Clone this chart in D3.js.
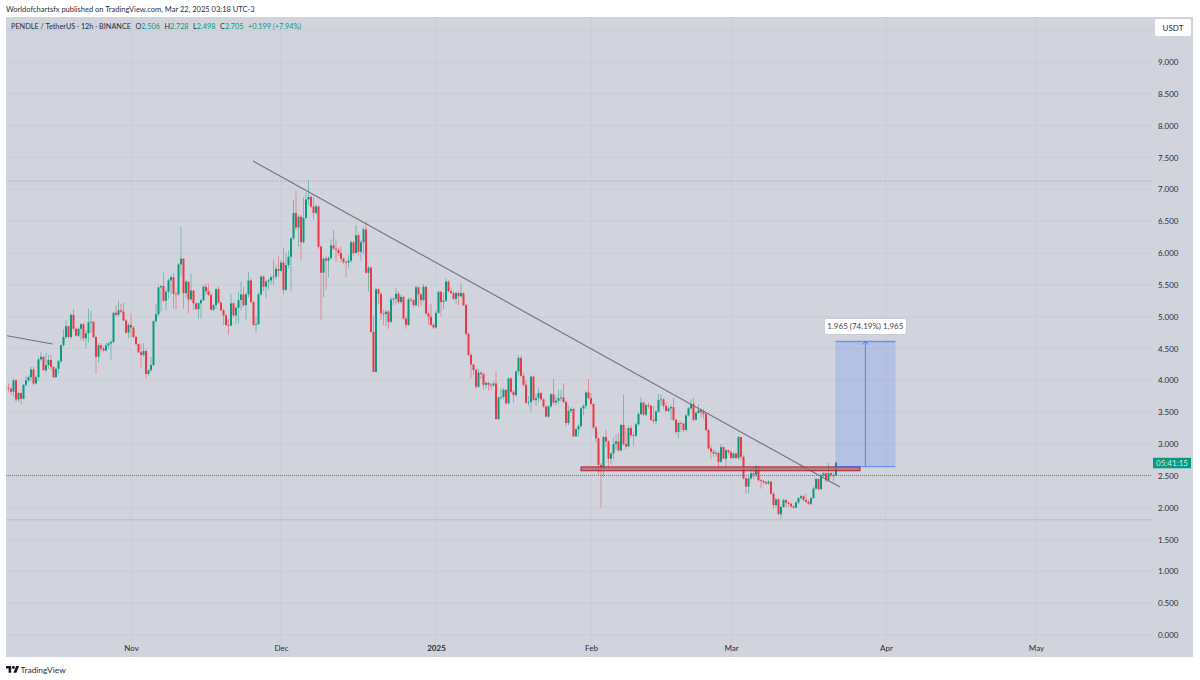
<!DOCTYPE html>
<html>
<head>
<meta charset="utf-8">
<title>PENDLE / TetherUS</title>
<script src="https://cdnjs.cloudflare.com/ajax/libs/d3/7.8.5/d3.min.js"></script>
<style>
  html, body { margin: 0; background: #fff; }
  svg { display: block; }
  text { font-family: Lato, "Open Sans", sans-serif; }
</style>
</head>
<body>
<script>
// 12h candles, oldest first. each open is the previous close
var firstOpen = 3.88;
var lastBar = "2025-03-22T00:00:00Z"; // 21:00 on the chart's UTC-3 clock

var closes = [
  3.87,3.82,4.00,3.70,3.80,3.71,3.93,4.00,4.05,4.17,
  3.95,4.05,4.33,4.37,4.16,4.24,4.32,4.21,4.05,4.18,
  4.30,4.55,4.68,4.85,4.68,5.03,4.81,4.70,4.81,4.88,
  4.66,4.74,4.91,4.92,4.68,4.37,4.55,4.50,4.47,4.55,
  4.58,4.60,5.06,5.03,5.10,5.08,4.94,4.75,4.87,4.83,
  4.68,4.57,4.44,4.40,4.46,4.10,4.16,4.24,4.93,5.04,
  5.46,5.48,5.25,5.39,5.57,5.62,5.36,5.35,5.82,5.91,
  5.37,5.55,5.27,5.41,5.21,5.12,5.21,5.26,5.47,5.40,
  5.34,5.11,5.18,5.43,5.22,5.10,5.02,4.87,4.86,5.21,
  5.02,5.14,5.26,5.35,5.18,5.35,5.57,5.23,4.87,4.88,
  5.35,5.63,5.47,5.55,5.57,5.62,5.63,5.75,5.72,5.85,
  5.42,5.81,5.94,6.23,6.63,6.40,6.57,6.17,6.55,6.84,
  6.88,6.73,6.63,6.73,6.10,5.69,5.91,5.88,5.92,6.12,
  6.07,6.05,6.00,5.91,5.86,5.85,5.88,6.17,6.00,6.28,
  6.02,6.17,6.37,5.69,5.77,4.76,4.13,5.43,5.36,5.05,
  5.04,5.08,4.92,5.27,5.28,5.36,5.23,5.31,4.97,4.87,
  5.27,5.26,5.18,5.46,5.35,5.26,5.47,5.05,5.00,4.87,
  4.83,5.06,5.39,5.23,5.25,5.55,5.40,5.37,5.28,5.37,
  5.32,5.37,5.18,4.73,4.40,4.25,4.16,3.90,4.12,4.10,
  3.93,3.96,3.93,3.92,3.95,3.39,3.73,3.74,3.85,3.64,
  4.03,3.82,3.77,4.14,4.35,4.07,3.93,3.65,3.66,4.06,
  3.69,3.72,3.80,3.70,3.59,3.43,3.59,3.78,3.65,3.68,
  3.72,3.73,3.66,3.33,3.52,3.55,3.12,3.23,3.28,3.56,
  3.60,3.81,3.72,3.63,3.26,3.09,2.67,2.62,3.11,3.04,
  2.77,2.85,3.00,3.04,2.90,3.30,3.00,2.96,3.25,3.14,
  3.13,3.31,3.47,3.65,3.46,3.61,3.60,3.38,3.36,3.51,
  3.69,3.70,3.60,3.52,3.56,3.58,3.38,3.19,3.33,3.32,
  3.22,3.45,3.56,3.63,3.38,3.49,3.53,3.50,3.47,3.22,
  2.93,2.88,2.85,2.86,2.72,2.95,2.77,2.90,2.87,2.78,
  2.85,2.78,3.11,2.80,2.46,2.33,2.46,2.54,2.52,2.65,
  2.43,2.42,2.40,2.38,2.41,2.22,2.04,2.13,1.90,2.01,
  2.12,2.08,2.06,2.02,2.00,2.08,2.15,2.18,2.12,2.09,
  2.06,2.15,2.30,2.45,2.29,2.51,2.54,2.43,2.54,2.51,
  2.506,2.705
];

var highs = [
  3.95,3.90,4.03,4.02,3.82,3.82,3.94,4.06,4.08,4.21,
  4.21,4.08,4.37,4.45,4.38,4.43,4.40,4.40,4.22,4.20,
  4.32,4.56,4.80,4.94,4.86,5.05,5.12,4.83,4.83,4.90,
  4.90,4.79,5.13,5.09,4.93,4.71,4.58,4.58,4.53,4.59,
  4.60,4.63,5.07,5.18,5.25,5.20,5.22,4.96,4.90,5.05,
  4.86,4.70,4.58,4.58,4.58,4.50,4.18,4.37,4.94,5.20,
  5.49,5.49,5.69,5.42,5.60,5.65,5.68,5.40,5.84,6.41,
  5.92,5.58,5.55,5.68,5.42,5.22,5.23,5.28,5.49,5.52,
  5.52,5.38,5.20,5.45,5.47,5.24,5.12,5.05,4.96,5.36,
  5.23,5.16,5.39,5.55,5.47,5.38,5.70,5.60,5.25,5.00,
  5.38,5.65,5.65,5.58,5.60,5.65,5.90,5.81,5.95,5.89,
  6.08,6.00,6.04,6.25,6.84,6.98,6.60,6.60,6.88,6.95,
  7.14,6.91,6.88,6.76,6.75,6.12,5.93,5.95,5.95,6.21,
  6.36,6.22,6.08,6.10,5.93,5.88,5.97,6.20,6.19,6.44,
  6.32,6.20,6.40,6.49,5.80,5.79,5.02,5.45,5.45,5.38,
  5.11,5.10,5.10,5.31,5.30,5.45,5.40,5.35,5.33,5.00,
  5.30,5.30,5.28,5.49,5.47,5.37,5.51,5.49,5.08,5.20,
  4.90,5.10,5.41,5.41,5.38,5.60,5.57,5.45,5.41,5.39,
  5.40,5.53,5.38,5.20,4.75,4.42,4.25,4.18,4.18,4.14,
  4.12,3.98,3.97,3.96,3.98,4.14,3.75,3.87,3.88,3.86,
  4.05,4.05,3.85,4.16,4.40,4.39,4.12,4.00,3.75,4.08,
  4.06,3.78,3.88,3.82,3.72,3.60,3.61,3.80,4.03,3.75,
  3.85,3.85,3.95,3.68,3.61,3.58,3.57,3.25,3.32,3.58,
  3.62,3.83,4.02,3.80,3.64,3.28,3.10,2.70,3.13,3.23,
  3.06,2.87,3.10,3.15,3.17,3.32,3.78,3.25,3.28,3.30,
  3.18,3.33,3.50,3.74,3.67,3.63,3.65,3.62,3.60,3.53,
  3.79,3.78,3.72,3.66,3.60,3.62,3.72,3.40,3.35,3.36,
  3.34,3.47,3.58,3.70,3.72,3.51,3.62,3.56,3.55,3.49,
  3.24,2.98,2.92,2.90,2.88,3.00,2.96,2.92,2.91,2.90,
  2.87,2.86,3.13,3.08,2.82,2.48,2.50,2.62,2.58,2.66,
  2.60,2.46,2.44,2.42,2.43,2.42,2.24,2.15,2.15,2.03,
  2.14,2.14,2.10,2.08,2.04,2.10,2.17,2.20,2.20,2.22,
  2.12,2.17,2.33,2.47,2.46,2.54,2.57,2.55,2.70,2.56,
  2.55,2.728
];

var lows = [
  3.82,3.77,3.74,3.66,3.66,3.62,3.70,3.90,3.97,4.00,
  3.92,3.94,3.99,4.31,4.15,4.13,4.18,4.16,4.03,4.04,
  4.10,4.27,4.53,4.65,4.66,4.65,4.78,4.68,4.68,4.63,
  4.62,4.50,4.60,4.75,4.66,4.10,4.28,4.45,4.44,4.45,
  4.50,4.32,4.59,5.00,5.00,5.05,4.93,4.73,4.66,4.68,
  4.66,4.55,4.43,4.20,4.37,4.03,4.07,4.13,4.22,4.90,
  5.00,5.08,5.23,5.10,5.28,5.35,5.13,5.12,5.33,5.65,
  5.13,5.30,5.05,5.25,5.10,5.10,4.97,4.97,5.24,5.35,
  5.32,5.09,5.09,5.12,5.20,5.08,4.87,4.85,4.72,4.85,
  4.98,4.88,4.90,5.10,5.15,4.95,5.30,5.21,4.85,4.75,
  4.98,5.33,5.40,5.29,5.42,5.50,5.50,5.58,5.62,5.70,
  5.35,5.40,5.76,5.40,6.20,6.36,6.10,5.88,6.15,6.53,
  6.75,6.70,6.52,6.60,6.06,4.95,5.31,5.42,5.61,5.90,
  6.05,5.86,5.95,5.85,5.82,5.62,5.76,5.85,5.95,5.98,
  5.96,5.88,5.98,5.67,5.39,4.74,4.13,4.13,5.20,4.95,
  4.87,4.85,4.81,4.90,5.18,5.20,5.20,5.20,4.95,4.81,
  4.85,5.23,5.14,5.16,5.15,5.18,5.24,5.03,4.87,4.85,
  4.81,4.81,5.04,5.00,5.12,5.23,5.38,5.35,5.26,5.20,
  5.18,5.30,5.16,4.71,4.38,4.03,4.08,3.87,3.88,4.02,
  3.85,3.88,3.84,3.85,3.90,3.39,3.38,3.68,3.70,3.62,
  3.62,3.80,3.65,3.74,4.08,4.05,3.90,3.63,3.60,3.51,
  3.67,3.60,3.65,3.68,3.57,3.41,3.41,3.57,3.62,3.60,
  3.64,3.68,3.64,3.28,3.30,3.48,3.11,3.11,3.12,3.26,
  3.45,3.55,3.70,3.60,3.24,3.02,2.52,2.00,2.48,2.95,
  2.60,2.68,2.76,2.90,2.88,2.88,2.97,2.92,2.95,3.10,
  2.97,3.10,3.28,3.45,3.44,3.44,3.56,3.36,3.32,3.30,
  3.49,3.60,3.55,3.50,3.50,3.38,3.36,3.15,3.09,3.20,
  3.18,3.20,3.43,3.54,3.35,3.37,3.47,3.42,3.40,3.20,
  2.91,2.76,2.80,2.80,2.60,2.70,2.76,2.62,2.84,2.76,
  2.76,2.76,2.76,2.75,2.44,2.22,2.22,2.44,2.45,2.48,
  2.41,2.30,2.36,2.36,2.36,2.20,1.98,2.00,1.88,1.82,
  2.00,2.00,2.02,1.99,1.98,1.99,2.06,2.13,2.10,2.07,
  2.04,2.04,2.14,2.28,2.27,2.28,2.48,2.40,2.41,2.48,
  2.42,2.498
];

var priceTicks = [0,0.5,1,1.5,2,2.5,3,3.5,4,4.5,5,5.5,6,6.5,7,7.5,8,8.5,9];
var gridOnlyPrices = [9.5];
var monthTicks = ["2024-11-01","2024-12-01","2025-01-01","2025-02-01","2025-03-01","2025-04-01","2025-05-01"];
var monthLabels = ["Nov","Dec","2025","Feb","Mar","Apr","May"];

var dottedLevels = [7.13, 1.81];
var lastPriceLevel = [2.506];
var mainTrend = [["2024-11-25T10:00:00Z", 7.445], ["2025-03-22T19:00:00Z", 2.325]];
var oldTrend = [["2024-10-07T05:00:00Z", 4.70], ["2024-10-16T08:00:00Z", 4.57]];
var supportZone = [["2025-01-30T00:00:00Z", 2.64], ["2025-03-26T19:00:00Z", 2.58]];
var measureBox = [["2025-03-21T21:00:00Z", 4.61], ["2025-04-02T21:00:00Z", 2.645]];

var headerText = "Worldofchartsfx published on TradingView.com, Mar 22, 2025 03:18 UTC-3";
var symbolText = "PENDLE / TetherUS \u00b7 12h \u00b7 BINANCE";
var ohlcLegend = [["O","2.506"],["H","2.728"],["L","2.498"],["C","2.705"]];
var changeText = "+0.199 (+7.94%)";
var measureText = "1.965 (74.19%) 1,965";
var countdown = "05:41:15";

var green = "#089981", red = "#f23645", blue = "#2962ff";
var pane = {left: 6, top: 17, right: 1193, bottom: 657, plotRight: 1152};

var svg = d3.select("body").append("svg").attr("width", 1200).attr("height", 680);

var x = d3.scaleUtc()
  .domain([new Date("2024-11-01T00:00:00Z"), new Date("2025-05-01T00:00:00Z")])
  .range([131, 1036]);
var y = d3.scaleLinear().domain([0, 9]).range([635, 62]);

var end = new Date(lastBar);
var bars = closes.map(function(c, i) {
  return {
    date: d3.utcHour.offset(end, -12 * (closes.length - 1 - i)),
    open: i ? closes[i - 1] : firstOpen,
    close: c, high: highs[i], low: lows[i]
  };
});

function tx(s) { return x(new Date(s)); }

svg.append("rect")
  .attr("x", pane.left).attr("y", pane.top)
  .attr("width", pane.right - pane.left).attr("height", pane.bottom - pane.top)
  .attr("fill", "#d1d4dc");

// grid
var gridColor = "#c9ccd5";
svg.append("g").selectAll("line").data(priceTicks.concat(gridOnlyPrices)).join("line")
  .attr("x1", pane.left).attr("x2", pane.plotRight)
  .attr("y1", function(d) { return y(d); }).attr("y2", function(d) { return y(d); })
  .attr("stroke", gridColor).attr("stroke-width", 0.8);
svg.append("g").selectAll("line").data(monthTicks).join("line")
  .attr("x1", tx).attr("x2", tx)
  .attr("y1", pane.top).attr("y2", pane.bottom)
  .attr("stroke", gridColor).attr("stroke-width", 0.8);

// dotted levels
svg.append("g").selectAll("line").data(dottedLevels).join("line")
  .attr("x1", pane.left).attr("x2", pane.plotRight)
  .attr("y1", function(d) { return y(d); }).attr("y2", function(d) { return y(d); })
  .attr("stroke", "#9b9ea8").attr("stroke-width", 0.8).attr("stroke-dasharray", "1 1");
svg.append("g").selectAll("line").data(lastPriceLevel).join("line")
  .attr("x1", pane.left).attr("x2", pane.plotRight)
  .attr("y1", function(d) { return y(d); }).attr("y2", function(d) { return y(d); })
  .attr("stroke", "#6f727c").attr("stroke-width", 0.9).attr("stroke-dasharray", "1 1");

// axes
var yAxis = d3.axisRight(y).tickValues(priceTicks).tickSize(0).tickPadding(0)
  .tickFormat(d3.format(".3f"));
var gy = svg.append("g").attr("transform", "translate(1158,0)").call(yAxis);
gy.select(".domain").remove();
gy.selectAll("text").attr("font-size", 8).attr("fill", "#2a2e39")
  .style("font-family", "Lato, sans-serif");

var xAxis = d3.axisBottom(x).tickValues(monthTicks.map(function(d) { return new Date(d + "T00:00:00Z"); }))
  .tickSize(0).tickPadding(0)
  .tickFormat(function(d, i) { return monthLabels[i]; });
var gx = svg.append("g").attr("transform", "translate(0,645)").call(xAxis);
gx.select(".domain").remove();
gx.selectAll("text").attr("font-size", 8).attr("fill", "#2a2e39")
  .style("font-family", "Lato, sans-serif")
  .attr("font-weight", function(d, i) { return monthLabels[i] === "2025" ? 700 : 400; });

// candles
var candles = svg.append("g").selectAll("g").data(bars).join("g");
candles.append("line")
  .attr("x1", function(d) { return x(d.date); }).attr("x2", function(d) { return x(d.date); })
  .attr("y1", function(d) { return y(d.high); }).attr("y2", function(d) { return y(d.low); })
  .attr("stroke", function(d) { return d.close >= d.open ? green : red; })
  .attr("stroke-width", 1).attr("stroke-opacity", 0.45);
candles.append("rect")
  .attr("x", function(d) { return x(d.date) - 1; })
  .attr("width", 2)
  .attr("y", function(d) { return y(Math.max(d.open, d.close)); })
  .attr("height", function(d) { return Math.max(0.8, Math.abs(y(d.open) - y(d.close))); })
  .attr("fill", function(d) { return d.close >= d.open ? green : red; });

// trend lines
[mainTrend, oldTrend].forEach(function(t) {
  svg.append("line")
    .attr("x1", tx(t[0][0])).attr("y1", y(t[0][1]))
    .attr("x2", tx(t[1][0])).attr("y2", y(t[1][1]))
    .attr("stroke", "#6f727c").attr("stroke-width", 1.1);
});

// support zone
svg.append("rect")
  .attr("x", tx(supportZone[0][0])).attr("y", y(supportZone[0][1]))
  .attr("width", tx(supportZone[1][0]) - tx(supportZone[0][0]))
  .attr("height", y(supportZone[1][1]) - y(supportZone[0][1]))
  .attr("fill", "#a8727c").attr("fill-opacity", 0.85)
  .attr("stroke", "#b5202c").attr("stroke-width", 1);

// measure box
var mx0 = tx(measureBox[0][0]), mx1 = tx(measureBox[1][0]);
var my0 = y(measureBox[0][1]), my1 = y(measureBox[1][1]);
var mid = (mx0 + mx1) / 2;
svg.append("rect")
  .attr("x", mx0).attr("y", my0).attr("width", mx1 - mx0).attr("height", my1 - my0)
  .attr("fill", blue).attr("fill-opacity", 0.17);
[my0, my1].forEach(function(v) {
  svg.append("line").attr("x1", mx0).attr("x2", mx1).attr("y1", v).attr("y2", v)
    .attr("stroke", blue).attr("stroke-opacity", 0.55).attr("stroke-width", 1.3);
});
svg.append("line").attr("x1", mid).attr("x2", mid).attr("y1", my1).attr("y2", my0)
  .attr("stroke", blue).attr("stroke-opacity", 0.7).attr("stroke-width", 1);
svg.append("path")
  .attr("d", d3.line()([[mid - 3, my0 + 3], [mid, my0], [mid + 3, my0 + 3]]))
  .attr("fill", "none").attr("stroke", blue).attr("stroke-opacity", 0.7).attr("stroke-width", 1);

svg.append("rect")
  .attr("x", mid - 41).attr("y", my0 - 23).attr("width", 82).attr("height", 16).attr("rx", 2)
  .attr("fill", "#fff").attr("stroke", "#bfc2cb").attr("stroke-width", 0.8);
svg.append("text").attr("x", mid).attr("y", my0 - 12)
  .attr("text-anchor", "middle").attr("font-size", 8).attr("fill", "#3f424c")
  .text(measureText);

// header and legend
svg.append("text").attr("x", 6).attr("y", 12).attr("font-size", 7.5).attr("fill", "#2a2e39").text(headerText);

var legend = svg.append("text").attr("x", 11).attr("y", 29).attr("font-size", 7.3).attr("fill", "#2a2e39");
legend.append("tspan").text(symbolText);
ohlcLegend.forEach(function(d, i) {
  legend.append("tspan").attr("dx", i ? 4.5 : 4.5).text(d[0]);
  legend.append("tspan").attr("fill", green).text(d[1]);
});
legend.append("tspan").attr("dx", 4.5).attr("fill", green).text(changeText);

// currency box
svg.append("rect").attr("x", 1155).attr("y", 19).attr("width", 36).attr("height", 17).attr("rx", 2).attr("fill", "#fff");
svg.append("text").attr("x", 1173).attr("y", 31).attr("text-anchor", "middle")
  .attr("font-size", 8).attr("fill", "#2a2e39").text("USDT");

// countdown tag sits on the last close
var lastY = y(closes[closes.length - 1]);
svg.append("rect").attr("x", 1153).attr("y", lastY - 5).attr("width", 38).attr("height", 10.5).attr("fill", green);
svg.append("text").attr("x", 1172).attr("y", lastY + 3).attr("text-anchor", "middle")
  .attr("font-size", 8).attr("fill", "#cdeee6").text(countdown);

// logo
svg.append("g").attr("transform", "translate(6,664.5) scale(0.37)")
  .selectAll("path").data(["M14 22H7V11H0V4h14v18z", "M28 22h-8l7.5-18h8L28 22z", "M16 8a4 4 0 1 0 8 0a4 4 0 1 0-8 0z"])
  .join("path").attr("d", function(d) { return d; }).attr("fill", "#131722");
svg.append("text").attr("x", 20.5).attr("y", 672.5).attr("font-size", 8.4).attr("fill", "#2a2e39").text("TradingView");
</script>
</body>
</html>
